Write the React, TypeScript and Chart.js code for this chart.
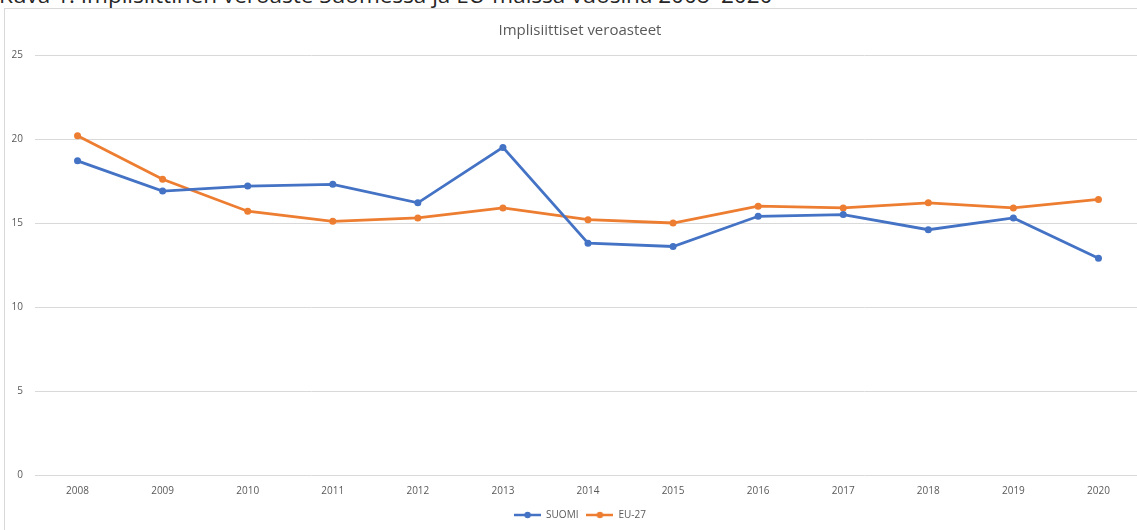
import { useEffect, useRef } from 'react';
import { Chart, registerables } from 'chart.js';

Chart.register(...registerables);

const years = ['2008', '2009', '2010', '2011', '2012', '2013', '2014', '2015', '2016', '2017', '2018', '2019', '2020'];
const suomi = [18.7, 16.9, 17.2, 17.3, 16.2, 19.5, 13.8, 13.6, 15.4, 15.5, 14.6, 15.3, 12.9];
const eu27 = [20.2, 17.6, 15.7, 15.1, 15.3, 15.9, 15.2, 15.0, 16.0, 15.9, 16.2, 15.9, 16.4];
const seriesNames = ['SUOMI', 'EU-27'];
const chartTitle = 'Implisiittiset veroasteet';
const caption = 'Kuva 1. Implisiittinen veroaste Suomessa ja EU-maissa vuosina 2008–2020';

const BLUE = '#4472C4';
const ORANGE = '#ED7D31';
const TEXT = '#595959';
const GRID = '#d9d9d9';
const FONT = "'Open Sans', sans-serif";

function legendMarker(color: string) {
  const c = document.createElement('canvas');
  c.width = 27;
  c.height = 8;
  const ctx = c.getContext('2d')!;
  ctx.strokeStyle = color;
  ctx.lineWidth = 2.5;
  ctx.beginPath();
  ctx.moveTo(0, 4);
  ctx.lineTo(27, 4);
  ctx.stroke();
  ctx.fillStyle = color;
  ctx.beginPath();
  ctx.arc(13.5, 4, 3.2, 0, Math.PI * 2);
  ctx.fill();
  return c;
}

export default function App() {
  const ref = useRef<HTMLCanvasElement>(null);
  useEffect(() => {
    if (!ref.current) return;
    const markers = [legendMarker(BLUE), legendMarker(ORANGE)];
    const chart = new Chart(ref.current, {
      type: 'line',
      data: {
        labels: years,
        datasets: [
          {
            label: seriesNames[0],
            data: suomi,
            borderColor: BLUE,
            backgroundColor: BLUE,
            borderWidth: 2.8,
            pointRadius: 3.5,
            pointBorderWidth: 0,
            pointBackgroundColor: BLUE,
            tension: 0,
          },
          {
            label: seriesNames[1],
            data: eu27,
            borderColor: ORANGE,
            backgroundColor: ORANGE,
            borderWidth: 2.8,
            pointRadius: 3.5,
            pointBorderWidth: 0,
            pointBackgroundColor: ORANGE,
            tension: 0,
          },
        ],
      },
      options: {
        animation: false,
        responsive: true,
        maintainAspectRatio: false,
        layout: { padding: 0 },
        plugins: {
          title: {
            display: true,
            text: chartTitle,
            color: TEXT,
            font: { family: FONT, size: 15, weight: 'normal' },
            padding: { top: 13, bottom: 15 },
          },
          legend: {
            position: 'bottom',
            labels: {
              usePointStyle: true,
              pointStyleWidth: 27,
              padding: 8,
              color: TEXT,
              font: { family: FONT, size: 10 },
              generateLabels: (ch: any) =>
                ch.data.datasets.map((d: any, i: number) => ({
                  text: d.label,
                  fillStyle: d.borderColor,
                  strokeStyle: d.borderColor,
                  lineWidth: 0,
                  pointStyle: markers[i],
                  datasetIndex: i,
                  fontColor: TEXT,
                  hidden: false,
                })),
            },
          },
          tooltip: { enabled: false },
        },
        scales: {
          x: {
            offset: true,
            grid: { display: false, drawTicks: false },
            border: { display: false },
            ticks: { color: TEXT, padding: 10, font: { family: FONT, size: 10 }, maxRotation: 0 },
            afterFit: (s: any) => {
              s.height = 27;
            },
          },
          y: {
            min: 0,
            max: 25,
            grid: { color: GRID, lineWidth: 1, drawTicks: false },
            border: { display: false },
            ticks: { stepSize: 5, color: TEXT, padding: 12, font: { family: FONT, size: 10 } },
            afterFit: (s: any) => {
              s.width = 30;
            },
          },
          y2: {
            position: 'right',
            display: true,
            grid: { display: false, drawTicks: false },
            border: { display: false },
            ticks: { display: false },
            afterFit: (s: any) => {
              s.width = 14;
            },
          },
        },
      },
    });
    return () => chart.destroy();
  }, []);

  return (
    <div
      style={{
        position: 'fixed',
        left: 0,
        top: 0,
        width: 1137,
        height: 530,
        overflow: 'hidden',
        background: '#fff',
      }}
    >
      <div
        style={{
          position: 'absolute',
          left: -1,
          top: -21,
          whiteSpace: 'nowrap',
          fontFamily: FONT,
          fontSize: 22.5,
          color: '#262626',
        }}
      >
        {caption}
      </div>
      <div
        style={{
          position: 'absolute',
          left: 4,
          top: 8,
          width: 1200,
          height: 600,
          border: '1px solid #d9d9d9',
          background: '#fff',
        }}
      />
      <div style={{ position: 'absolute', left: 5, top: 9, width: 1150, height: 521 }}>
        <canvas ref={ref} />
      </div>
    </div>
  );
}
